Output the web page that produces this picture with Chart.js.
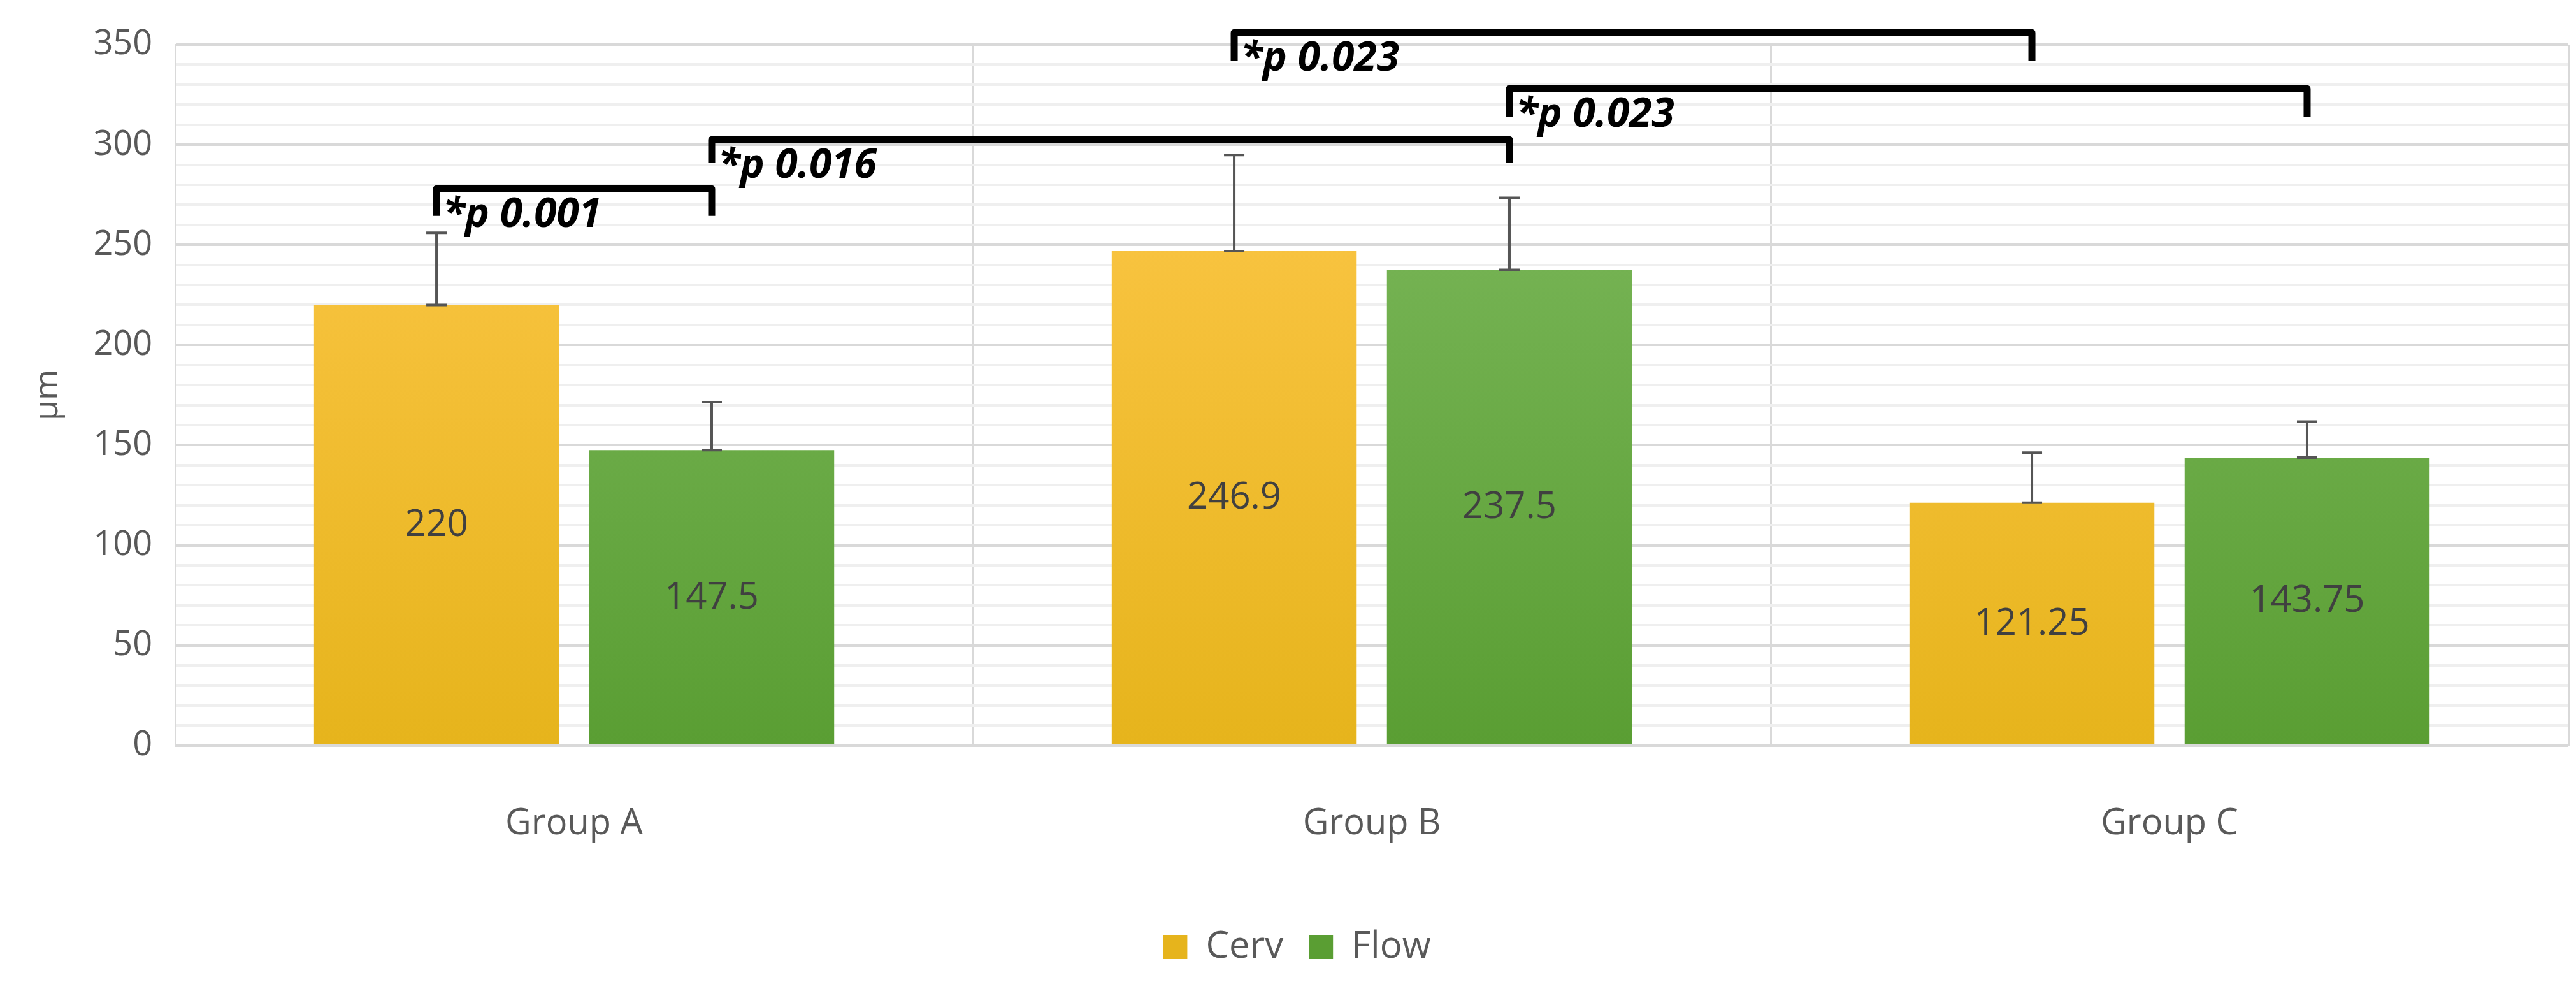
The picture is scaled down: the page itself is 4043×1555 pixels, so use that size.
<!DOCTYPE html>
<html>
<head>
<meta charset="utf-8">
<script src="https://cdn.jsdelivr.net/npm/chart.js@4/dist/chart.umd.min.js"></script>
<style>
  html, body { margin: 0; padding: 0; background: #fff; }
  #wrap { width: 4043px; height: 1555px; }
</style>
</head>
<body>
<div id="wrap"><canvas id="chart"></canvas></div>
<script>
const groups = ['Group A', 'Group B', 'Group C'];
const cervValues = [220, 246.9, 121.25];
const flowValues = [147.5, 237.5, 143.75];
const cervErrors = [36, 48, 25];
const flowErrors = [24, 36, 18];
const cervLabels = ['220', '246.9', '121.25'];
const flowLabels = ['147.5', '237.5', '143.75'];
// [from dataset, from group, to dataset, to group, bar top value, leg end value, text]
const brackets = [
  [0, 0, 1, 0, 278, 264.5, '*p 0.001'],
  [1, 0, 1, 1, 302.5, 291, '*p 0.016'],
  [0, 1, 0, 2, 356, 342, '*p 0.023'],
  [1, 1, 1, 2, 328, 314, '*p 0.023']
];

const ctx = document.getElementById('chart').getContext('2d');

function grad(c, top, bottom) {
  const area = c.chart.chartArea;
  if (!area) return top;
  const g = c.chart.ctx.createLinearGradient(0, area.top, 0, area.bottom);
  g.addColorStop(0, top);
  g.addColorStop(1, bottom);
  return g;
}

const extras = {
  id: 'extras',
  afterDatasetsDraw(chart) {
    const c = chart.ctx;
    const y = chart.scales.y;
    const errs = [cervErrors, flowErrors];
    const vals = [cervValues, flowValues];
    const labs = [cervLabels, flowLabels];
    c.save();
    for (let d = 0; d < 2; d++) {
      chart.getDatasetMeta(d).data.forEach((bar, i) => {
        const top = y.getPixelForValue(vals[d][i] + errs[d][i]);
        c.strokeStyle = '#555';
        c.lineWidth = 4;
        c.beginPath();
        c.moveTo(bar.x, bar.y);
        c.lineTo(bar.x, top);
        c.moveTo(bar.x - 16, top);
        c.lineTo(bar.x + 16, top);
        c.moveTo(bar.x - 16, bar.y);
        c.lineTo(bar.x + 16, bar.y);
        c.stroke();
        c.fillStyle = '#404040';
        c.font = '58px "Open Sans", sans-serif';
        c.textAlign = 'center';
        c.textBaseline = 'middle';
        c.fillText(labs[d][i], bar.x, y.getPixelForValue(vals[d][i] / 2));
      });
    }
    brackets.forEach(b => {
      const x1 = chart.getDatasetMeta(b[0]).data[b[1]].x;
      const x2 = chart.getDatasetMeta(b[2]).data[b[3]].x;
      const yt = y.getPixelForValue(b[4]);
      const yl = y.getPixelForValue(b[5]);
      c.strokeStyle = '#000';
      c.lineWidth = 11;
      c.lineJoin = 'round';
      c.beginPath();
      c.moveTo(x1, yl);
      c.lineTo(x1, yt);
      c.lineTo(x2, yt);
      c.lineTo(x2, yl);
      c.stroke();
      c.fillStyle = '#000';
      c.font = 'italic bold 64px "Open Sans", sans-serif';
      c.textAlign = 'left';
      c.textBaseline = 'top';
      c.fillText(b[6], x1 + 10, yt + 10);
    });
    c.restore();
  }
};

new Chart(ctx, {
  type: 'bar',
  data: {
    labels: groups,
    datasets: [
      {
        label: 'Cerv',
        data: cervValues,
        backgroundColor: c => grad(c, '#FFC94D', '#E6B41C')
      },
      {
        label: 'Flow',
        data: flowValues,
        backgroundColor: c => grad(c, '#80BB60', '#5A9E33')
      }
    ]
  },
  options: {
    responsive: true,
    maintainAspectRatio: false,
    animation: false,
    devicePixelRatio: 1,
    categoryPercentage: 0.69,
    barPercentage: 0.89,
    layout: { padding: { top: 70, right: 12, left: 40, bottom: 30 } },
    scales: {
      x: {
        grid: { offset: true, color: '#d9d9d9', lineWidth: 3, drawTicks: false },
        border: { color: '#d9d9d9', width: 3 },
        ticks: { color: '#595959', font: { size: 56, family: '"Open Sans", sans-serif' }, padding: 90 }
      },
      y: {
        min: 0,
        max: 350,
        grid: {
          color: c => (c.tick.value % 50 === 0 ? '#d9d9d9' : '#efefef'),
          lineWidth: 4,
          drawTicks: false
        },
        border: { color: '#d9d9d9', width: 3 },
        ticks: {
          stepSize: 10,
          autoSkip: false,
          color: '#595959',
          padding: 36,
          font: { size: 54, family: '"Open Sans", sans-serif' },
          callback: v => (v % 50 === 0 ? v : '')
        },
        title: { display: true, text: 'µm', color: '#595959', font: { size: 52, family: '"Open Sans", sans-serif' } }
      }
    },
    plugins: {
      legend: {
        position: 'bottom',
        labels: {
          boxWidth: 38, boxHeight: 38, padding: 40,
          color: '#595959',
          font: { size: 58, family: '"Open Sans", sans-serif' }
        }
      },
      tooltip: { enabled: false }
    }
  },
  plugins: [extras]
});
</script>
</body>
</html>
